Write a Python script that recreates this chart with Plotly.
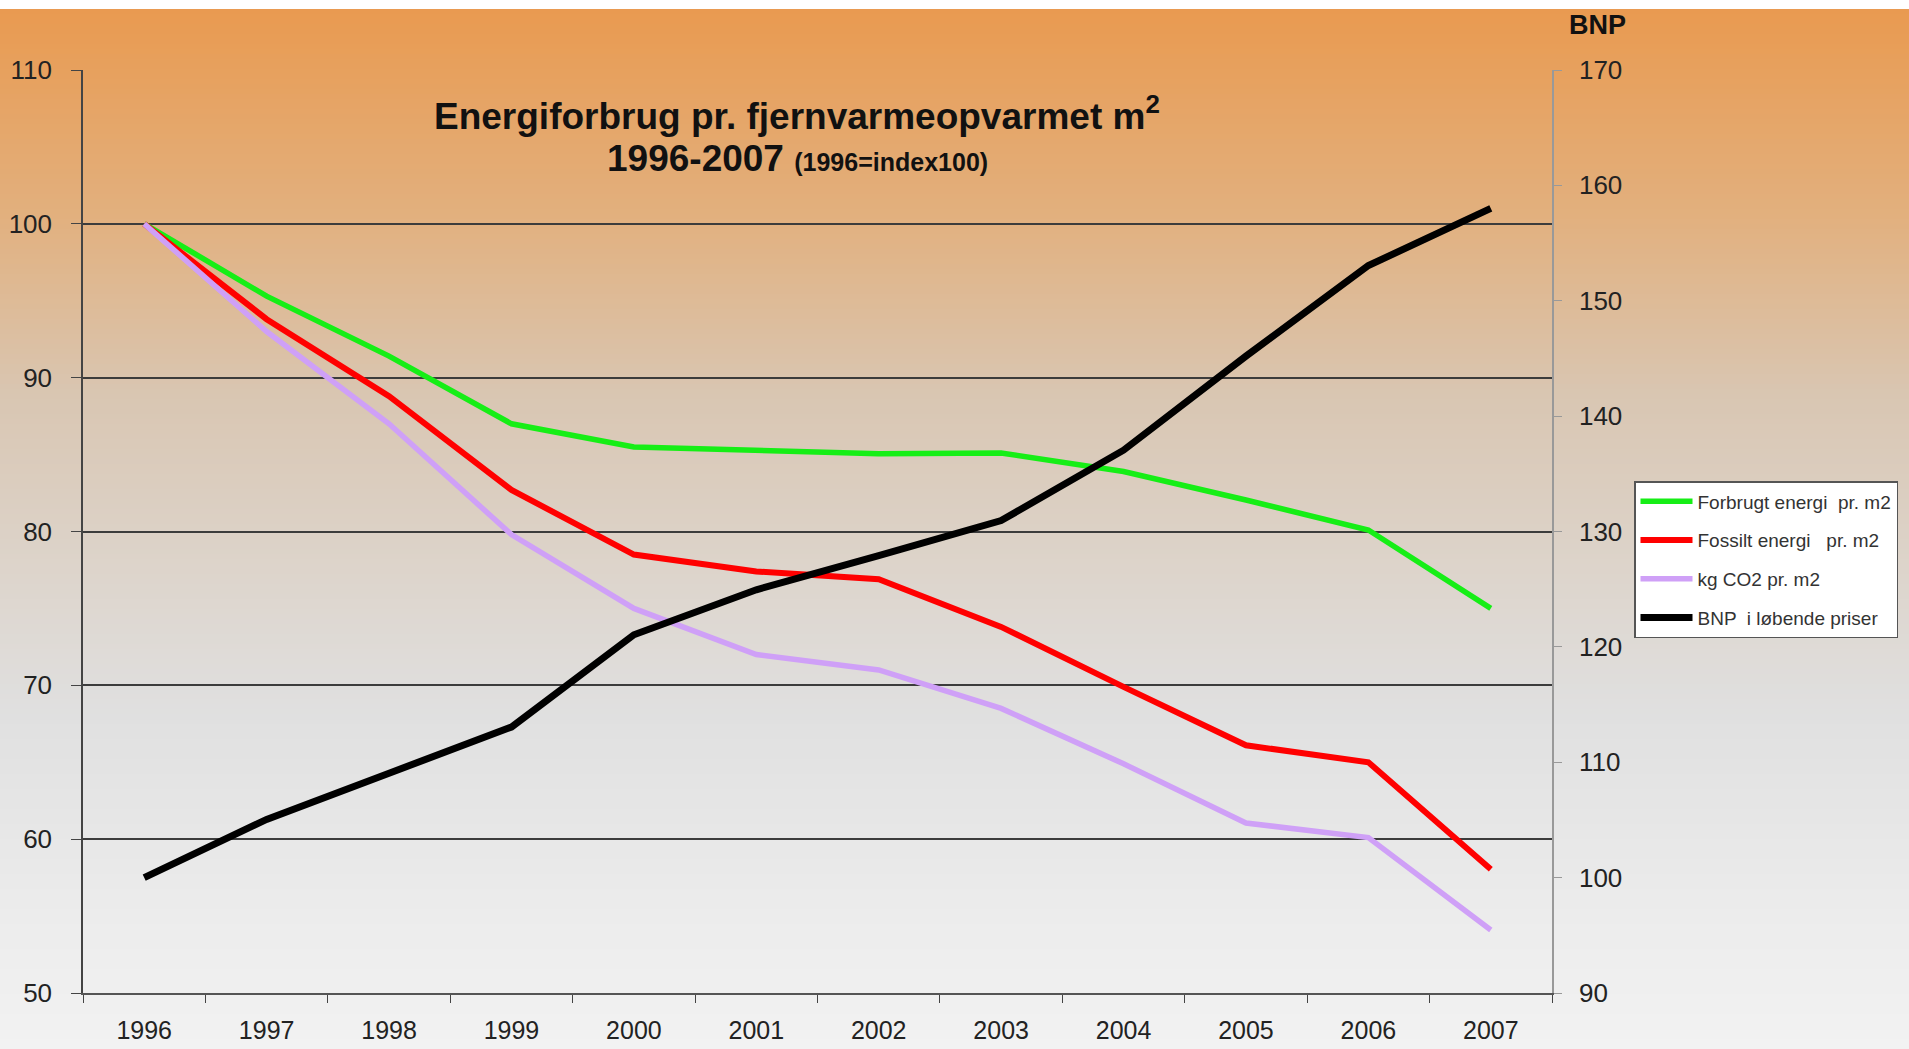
import plotly.graph_objects as go

years = ["1996", "1997", "1998", "1999", "2000", "2001", "2002", "2003", "2004", "2005", "2006", "2007"]
forbrugt = [100, 95.3, 91.4, 87.0, 85.5, 85.3, 85.05, 85.1, 83.9, 82.05, 80.1, 75.0]
fossilt = [100, 93.8, 88.8, 82.7, 78.5, 77.4, 76.9, 73.8, 69.9, 66.1, 65.0, 58.05]
co2 = [100, 93.0, 87.0, 79.8, 75.0, 72.0, 71.0, 68.5, 64.9, 61.05, 60.1, 54.1]
bnp = [100, 105.05, 109.05, 113.05, 121.05, 124.95, 127.9, 130.95, 137.05, 145.2, 153.05, 158.0]

W, H = 1909, 1049
L, R, T, B = 83, 1552, 70, 993
FONT = "Liberation Sans, Arial, sans-serif"

fig = go.Figure()
fig.add_trace(go.Scatter(x=years, y=forbrugt, mode="lines", name="Forbrugt energi  pr. m2",
                         line=dict(color="#16EE16", width=5.5), legendgroup="a"))
fig.add_trace(go.Scatter(x=years, y=fossilt, mode="lines", name="Fossilt energi   pr. m2",
                         line=dict(color="#FF0000", width=6), legendgroup="b"))
fig.add_trace(go.Scatter(x=years, y=co2, mode="lines", name="kg CO2 pr. m2",
                         line=dict(color="#CFA0F7", width=5.5), legendgroup="c"))
fig.add_trace(go.Scatter(x=years, y=bnp, mode="lines", name="BNP  i løbende priser",
                         line=dict(color="#000000", width=7), yaxis="y2", legendgroup="d"))

# gradient background
stops = [(9, (233, 154, 80)), (215, (226, 176, 126)), (395, (217, 198, 178)),
         (715, (224, 224, 224)), (915, (236, 236, 236)), (1049, (242, 242, 242))]

def col_at(py):
    for (y0, c0), (y1, c1) in zip(stops[:-1], stops[1:]):
        if y0 <= py <= y1:
            t = (py - y0) / (y1 - y0)
            return tuple(round(a + (b - a) * t) for a, b in zip(c0, c1))
    return stops[-1][1]

pw, ph = R - L, B - T
def px2x(px):
    return (px - L) / pw
def px2y(py):
    return (B - py) / ph

shapes = []
step = 5
py = 9
while py < H:
    c = col_at(py + step / 2)
    shapes.append(dict(type="rect", xref="paper", yref="paper", layer="below",
                       x0=px2x(0), x1=px2x(W), y0=px2y(py + step + 0.5), y1=px2y(py),
                       line=dict(width=0), fillcolor="rgb(%d,%d,%d)" % c))
    py += step

fig.update_layout(
    width=W, height=H,
    margin=dict(l=L, r=W - R, t=T, b=H - B, autoexpand=False),
    paper_bgcolor="white",
    plot_bgcolor="rgba(0,0,0,0)",
    shapes=shapes,
    font=dict(family=FONT, color="#222222"),
    xaxis=dict(type="category", range=[-0.5, 11.5], tickson="boundaries", ticks="outside",
               ticklen=8, tickcolor="#444", showline=True, linecolor="#555", linewidth=2,
               showgrid=False, tickfont=dict(size=25, color="#222"), ticklabelstandoff=14),
    yaxis=dict(range=[50, 110], dtick=10, ticks="outside", ticklen=10, tickcolor="#444",
               showline=True, linecolor="#444", linewidth=1.5, showgrid=True,
               gridcolor="#3c3c3c", gridwidth=1.5, zeroline=False,
               tickfont=dict(size=26, color="#222"), ticklabelstandoff=14),
    yaxis2=dict(range=[90, 170], dtick=10, overlaying="y", side="right", ticks="outside",
                ticklen=8, tickcolor="#999", showline=True, linecolor="#999", linewidth=1.5,
                showgrid=False, zeroline=False, tickfont=dict(size=26, color="#222"),
                ticklabelstandoff=12),
    legend=dict(x=px2x(1634), y=px2y(481), xanchor="left", yanchor="top",
                bgcolor="white", bordercolor="#555", borderwidth=1.5,
                font=dict(size=19, color="#333"), tracegroupgap=11, itemwidth=52),
    showlegend=True,
    annotations=[
        dict(xref="paper", yref="paper", x=px2x(797), y=px2y(114), xanchor="center", yanchor="middle",
             text="<b>Energiforbrug pr. fjernvarmeopvarmet m<sup>2</sup></b>",
             showarrow=False, font=dict(size=37, color="#111")),
        dict(xref="paper", yref="paper", x=px2x(797), y=px2y(159), xanchor="center", yanchor="middle",
             text="<b>1996-2007 </b><b><span style='font-size:25px'>(1996=index100)</span></b>",
             showarrow=False, font=dict(size=37, color="#111")),
        dict(xref="paper", yref="paper", x=px2x(1597), y=px2y(25), xanchor="center", yanchor="middle",
             text="<b>BNP</b>", showarrow=False, font=dict(size=27, color="#111")),
    ],
)

fig.write_html("out.html", config={"displayModeBar": False},
               post_script="document.body.style.margin='0px';")
